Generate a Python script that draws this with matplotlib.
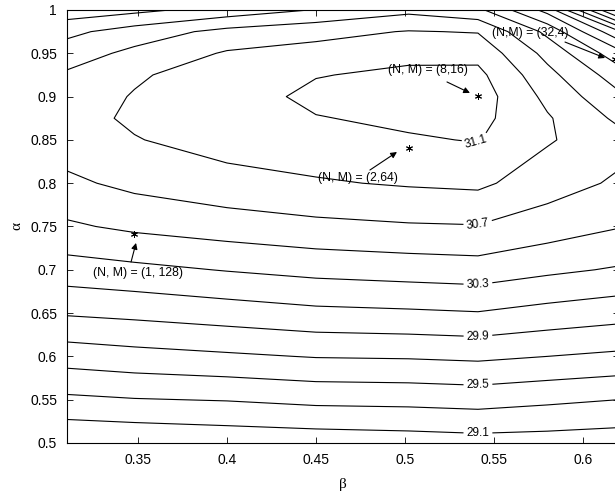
import matplotlib
matplotlib.use('Agg')
import matplotlib.pyplot as plt
from matplotlib.ticker import FormatStrFormatter

# grid
beta = [0.31, 0.348, 0.40, 0.45, 0.502, 0.541, 0.58, 0.62]
alpha = [0.50, 0.55, 0.60, 0.65, 0.70, 0.75, 0.80, 0.85, 0.875,
         0.90, 0.925, 0.95, 0.975, 1.00]
psnr = [
    [28.91, 28.93, 28.96, 28.98, 29.00, 29.02, 29.01, 28.99],
    [29.26, 29.29, 29.31, 29.35, 29.36, 29.38, 29.34, 29.30],
    [29.59, 29.63, 29.67, 29.71, 29.72, 29.74, 29.70, 29.66],
    [29.92, 29.95, 30.00, 30.05, 30.07, 30.09, 30.03, 29.98],
    [30.21, 30.25, 30.31, 30.36, 30.39, 30.41, 30.34, 30.28],
    [30.47, 30.54, 30.60, 30.65, 30.68, 30.69, 30.60, 30.51],
    [30.66, 30.75, 30.83, 30.88, 30.92, 30.94, 30.79, 30.67],
    [30.80, 30.89, 30.98, 31.02, 31.08, 31.11, 30.92, 30.77],
    [30.83, 30.93, 31.02, 31.09, 31.14, 31.16, 30.92, 30.66],
    [30.82, 30.91, 31.00, 31.15, 31.18, 31.20, 30.85, 30.54],
    [30.73, 30.88, 30.98, 31.09, 31.14, 31.15, 30.76, 30.40],
    [30.60, 30.75, 30.92, 30.97, 31.05, 31.04, 30.64, 30.18],
    [30.45, 30.59, 30.76, 30.84, 30.91, 30.89, 30.45, 29.74],
    [30.18, 30.25, 30.38, 30.51, 30.65, 30.55, 30.03, 28.80],
]
levels = [29.1, 29.3, 29.5, 29.7, 29.9, 30.1, 30.3, 30.5, 30.7, 30.9, 31.1]

# (N, M) configurations marked with an asterisk
nm_text = ['(N, M) = (1, 128)', '(N, M) = (2,64)', '(N, M) = (8,16)', '(N,M) = (32,4)']
nm_beta = [0.348, 0.502, 0.541, 0.618]
nm_alpha = [0.741, 0.841, 0.9007, 0.943]


def plot_contour():
    plt.rcParams['font.family'] = ['Liberation Sans', 'DejaVu Sans']
    fig = plt.figure(figsize=(6.15, 4.95), dpi=100)
    ax = fig.add_axes([0.1086, 0.1051, 0.8972, 0.8747])

    cs = ax.contour(beta, alpha, psnr, levels=levels, colors='k', linewidths=0.8)
    # labels only on every second line (29.1, 29.5, ... 31.1), near the kink
    spots = [(0.541, 0.512), (0.541, 0.566), (0.541, 0.622),
             (0.541, 0.682), (0.541, 0.749), (0.540, 0.847)]
    ax.clabel(cs, inline=True, fontsize=8.5, fmt='%g',
              manual=spots, inline_spacing=3)

    ax.plot(nm_beta, nm_alpha, linestyle='none', marker=(6, 2, 0),
            color='k', markersize=5, markeredgewidth=0.7, clip_on=False)

    text_xy = [(0.350, 0.6963), (0.4736, 0.806), (0.5129, 0.9307), (0.5702, 0.9734)]
    tails = [(0.3461, 0.709), (0.4803, 0.8152), (0.5236, 0.9169), (0.5899, 0.963)]
    heads = [(0.3489, 0.731), (0.4955, 0.836), (0.5365, 0.9042), (0.6124, 0.9446)]
    for txt, (tx, ty), tail, head in zip(nm_text, text_xy, tails, heads):
        ax.text(tx, ty, txt, fontsize=8.8, ha='center', va='center')
        ax.annotate('', xy=head, xytext=tail,
                    arrowprops=dict(arrowstyle='-|>', color='k', lw=0.8,
                                    mutation_scale=9, shrinkA=0, shrinkB=0))

    ax.set_xlim(0.31, 0.62)
    ax.set_ylim(0.5, 1.0)
    ax.set_xticks([0.35, 0.4, 0.45, 0.5, 0.55, 0.6])
    ax.set_yticks([0.5, 0.55, 0.6, 0.65, 0.7, 0.75, 0.8, 0.85, 0.9, 0.95, 1.0])
    ax.xaxis.set_major_formatter(FormatStrFormatter('%g'))
    ax.yaxis.set_major_formatter(FormatStrFormatter('%g'))
    ax.tick_params(direction='in', top=True, right=True, length=4,
                   width=0.6, labelsize=10, pad=7)
    for sp in ax.spines.values():
        sp.set_linewidth(0.8)

    ax.set_xlabel('β', family='Liberation Serif', fontsize=11, labelpad=8)
    ax.set_ylabel('α', family='Liberation Serif', fontsize=11, labelpad=5)

    fig.savefig('out.png', dpi=100)


plot_contour()
